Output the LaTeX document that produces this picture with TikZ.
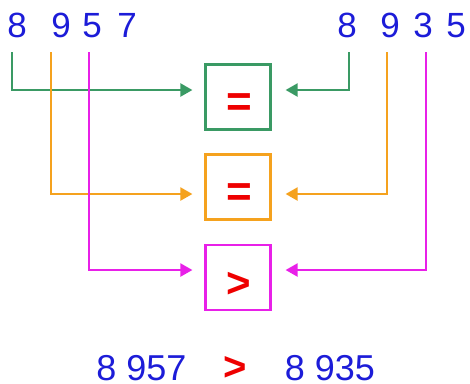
\documentclass[tikz,border=0pt]{standalone}
\usepackage{fontspec}
\setmainfont{Liberation Sans}
\usetikzlibrary{arrows.meta}
\definecolor{dgblue}{HTML}{1C1CD8}
\definecolor{cgreen}{HTML}{3A9A64}
\definecolor{corange}{HTML}{F5A21E}
\definecolor{cmag}{HTML}{E820E8}
\definecolor{cred}{HTML}{EE0000}
\begin{document}
\begin{tikzpicture}[x=1pt,y=-1pt,
  digit/.style={text=dgblue,font=\fontsize{35}{35}\selectfont,anchor=base,inner sep=0pt},
  result/.style={text=dgblue,font=\fontsize{36}{36}\selectfont,anchor=base,inner sep=0pt},
  sym/.style={text=cred,font=\fontsize{44}{44}\selectfont\bfseries,anchor=base,inner sep=0pt},
  cmpbox/.style={draw,line width=2.2pt,minimum width=65pt,minimum height=65pt,inner sep=0pt},
  conn/.style={line width=2.2pt,-{Triangle[length=12pt,width=13pt]}}]
\useasboundingbox (0,0) rectangle (470,383);
% top digits
\node[digit] (a1) at (17,37) {8};
\node[digit] (a2) at (61,37) {9};
\node[digit] (a3) at (92,37) {5};
\node[digit] (a4) at (127,37) {7};
\node[digit] (c1) at (347,37) {8};
\node[digit] (c2) at (390,37) {9};
\node[digit] (c3) at (423,37) {3};
\node[digit] (c4) at (456,37) {5};
% boxes
\node[cmpbox,draw=cgreen] (b1) at (238,97) {};
\node[cmpbox,draw=corange] (b2) at (238,187) {};
\node[cmpbox,draw=cmag] (b3) at (238,277.5) {};
\node[sym] (s1) at (239.5,116) {=};
\node[sym] (s2) at (239.5,206) {=};
\node[sym,font=\fontsize{42}{42}\selectfont\bfseries] (s3) at (238.5,297) {>};
% connector start points
\coordinate (g1) at (12,52);
\coordinate (o1) at (51,52);
\coordinate (m1) at (89,52);
\coordinate (g2) at (349,52);
\coordinate (o2) at (387,52);
\coordinate (m2) at (426,52);
\draw[conn,cgreen,shorten >=12pt] (g1) |- ([yshift=7pt]b1.west);
\draw[conn,cgreen,shorten >=14pt] (g2) |- ([yshift=7pt]b1.east);
\draw[conn,corange,shorten >=12pt] (o1) |- ([yshift=-7pt]b2.west);
\draw[conn,corange,shorten >=14pt] (o2) |- ([yshift=-7pt]b2.east);
\draw[conn,cmag,shorten >=12pt] (m1) |- ([yshift=7.5pt]b3.west);
\draw[conn,cmag,shorten >=14pt] (m2) |- ([yshift=7.5pt]b3.east);
% bottom result
\node[result] (r1) at (141.5,380) {8 957};
\node[sym,font=\fontsize{40}{40}\selectfont\bfseries] (r2) at (235,380) {>};
\node[result] (r3) at (330,380) {8 935};
\end{tikzpicture}
\end{document}
